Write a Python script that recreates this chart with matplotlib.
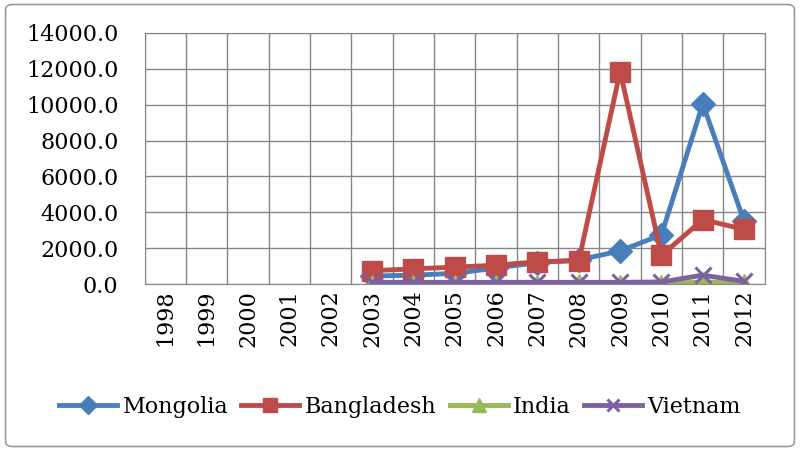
import matplotlib
matplotlib.use("Agg")
import matplotlib.pyplot as plt
from matplotlib.patches import FancyBboxPatch

YEARS = [str(y) for y in range(1998, 2013)]
MONGOLIA = [None, None, None, None, None, 450, 500, 600, 900, 1200, 1350, 1850, 2750, 10050, 3500]
BANGLADESH = [None, None, None, None, None, 750, 850, 950, 1050, 1250, 1300, 11850, 1600, 3600, 3050]
INDIA = [None, None, None, None, None, 20, 20, 20, 20, 30, 50, 30, 30, 120, 40]
VIETNAM = [None, None, None, None, None, 100, 100, 100, 100, 100, 100, 100, 120, 500, 150]

SERIES = [
    ("Mongolia", MONGOLIA, "#4A7EBB", "D", 12),
    ("Bangladesh", BANGLADESH, "#BE4B48", "s", 14),
    ("India", INDIA, "#98B954", "^", 13),
    ("Vietnam", VIETNAM, "#7D60A0", "x", 12),
]

plt.rcParams["font.family"] = ["DejaVu Serif"]

fig = plt.figure(figsize=(8, 4.51), dpi=100)
fig.patches.append(FancyBboxPatch((0.007, 0.01), 0.986, 0.98, boxstyle="round,pad=0,rounding_size=0.01",
                                  transform=fig.transFigure, fill=False, edgecolor="#9a9a9a", linewidth=1.2))
ax = fig.add_axes([0.181, 0.370, 0.775, 0.557])

x = list(range(len(YEARS)))
for name, vals, color, marker, ms in SERIES:
    xs = [i for i, v in zip(x, vals) if v is not None]
    ys = [v for v in vals if v is not None]
    mew = 2.2 if marker == "x" else 1
    ax.plot(xs, ys, color=color, linewidth=3.5, marker=marker, markersize=ms,
            markeredgewidth=mew, label=name, solid_joinstyle="round")

ax.set_xlim(-0.5, len(YEARS) - 0.5)
ax.set_ylim(0, 14000)
ax.set_yticks(range(0, 14001, 2000))
ax.set_yticklabels(["%.1f" % v for v in range(0, 14001, 2000)], fontsize=16)
ax.set_xticks(x)
ax.set_xticklabels(YEARS, rotation=90, fontsize=16)
ax.set_xticks([i - 0.5 for i in range(len(YEARS) + 1)], minor=True)
ax.tick_params(axis="x", which="major", length=0, pad=4)
ax.tick_params(axis="x", which="minor", length=0)
ax.tick_params(axis="y", length=0, pad=19)
ax.grid(True, axis="y", color="#868686", linewidth=1)
ax.grid(True, axis="x", which="minor", color="#868686", linewidth=1)
for s in ax.spines.values():
    s.set_color("#868686")
ax.set_axisbelow(True)

fig.legend(loc="center", bbox_to_anchor=(0.5, 0.097), ncol=4, frameon=False, fontsize=16,
           handlelength=2.6, columnspacing=0.6, handletextpad=0.25, markerscale=0.75)

fig.savefig("out.png", dpi=100)
